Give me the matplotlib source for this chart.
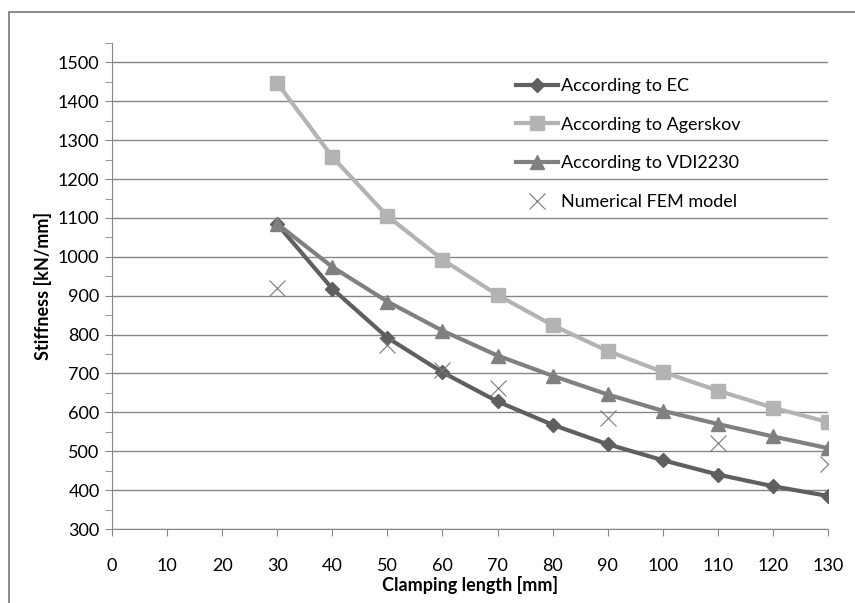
import matplotlib

matplotlib.use("Agg")
import matplotlib.pyplot as plt
from matplotlib.patches import Rectangle
from matplotlib.ticker import MultipleLocator

# clamping length [mm]
X_CALC = [30, 40, 50, 60, 70, 80, 90, 100, 110, 120, 130]
EC = [1084, 918, 792, 703, 628, 568, 518, 477, 440, 410, 385]
AGERSKOV = [1447, 1257, 1105, 993, 902, 824, 758, 704, 656, 612, 575]
VDI2230 = [1085, 974, 885, 810, 746, 694, 646, 604, 570, 538, 508]

X_FEM = [30, 50, 60, 70, 90, 110, 130]
FEM = [919, 772, 709, 663, 585, 522, 467]

FONT = "Lato"
GRID_C = "#868686"

fig = plt.figure(figsize=(8.55, 6.03), dpi=100)
# chart-area frame, only left and top edges are inside the picture
fig.patches.append(Rectangle((9 / 855, -0.1), 1.2, 1.1 - 12 / 603, transform=fig.transFigure,
                             fill=False, edgecolor="#8c8c8c", lw=1.4))
ax = fig.add_axes([112 / 855, 1 - 529 / 603, (828 - 112) / 855, (529 - 43) / 603])

ax.plot(X_CALC, EC, color="#5f5f5f", lw=3, marker="D", ms=7.5, label="According to EC")
ax.plot(X_CALC, AGERSKOV, color="#b3b3b3", lw=3, marker="s", ms=10, label="According to Agerskov")
ax.plot(X_CALC, VDI2230, color="#808080", lw=3, marker="^", ms=10, label="According to VDI2230")
ax.plot(X_FEM, FEM, ls="none", color="#7a7a7a", marker="x", ms=11, mew=0.8,
        label="Numerical FEM model")

ax.set_xlim(0, 130)
ax.set_ylim(300, 1550)
ax.xaxis.set_major_locator(MultipleLocator(10))
ax.yaxis.set_minor_locator(MultipleLocator(50))
ax.set_yticks(range(300, 1501, 100))
ax.grid(axis="y", which="major", color=GRID_C, lw=1)
ax.set_axisbelow(True)
for side in ["top", "right"]:
    ax.spines[side].set_visible(False)
for side in ["left", "bottom"]:
    ax.spines[side].set_color(GRID_C)
ax.tick_params(which="both", color=GRID_C, direction="out", length=5)
ax.tick_params(axis="x", labelsize=13, pad=16)
ax.tick_params(axis="y", labelsize=13, pad=4)
for lab in ax.get_xticklabels() + ax.get_yticklabels():
    lab.set_fontfamily(FONT)

ax.set_xlabel("Clamping length [mm]", fontfamily=FONT, fontweight="bold", fontsize=13, labelpad=1)
ax.set_ylabel("Stiffness [kN/mm]", fontfamily=FONT, fontweight="bold", fontsize=13, labelpad=4)

ax.legend(loc="upper left", bbox_to_anchor=(0.542, 0.961), frameon=False,
          prop={"family": FONT, "size": 13}, handlelength=2.3, handletextpad=0.2,
          labelspacing=1.25)

fig.savefig("out.png", dpi=100)
